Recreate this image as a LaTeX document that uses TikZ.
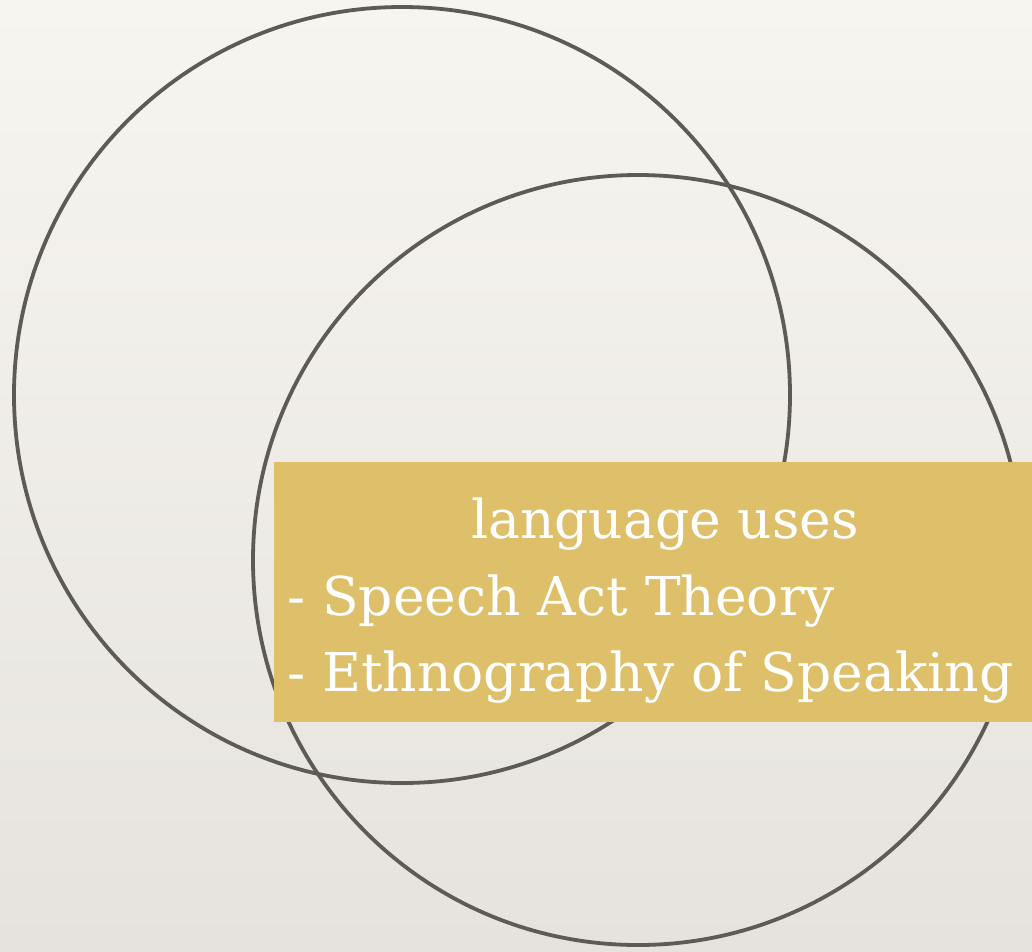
\documentclass[tikz,border=0pt]{standalone}
\usepackage{fontspec}
\setmainfont{DejaVu Serif}
\definecolor{bgtop}{HTML}{F7F5F0}
\definecolor{bgbot}{HTML}{E6E3DF}
\definecolor{ring}{HTML}{5E5B57}
\definecolor{gold}{HTML}{DEC06B}
\tikzset{
  ringnode/.style={circle, draw=ring, line width=3.8pt, inner sep=0pt, fill=none},
  goldbox/.style={fill=gold, draw=none, inner sep=0pt},
  txt/.style={text=white, font=\fontsize{53.5}{58}\selectfont, inner sep=0pt}
}
\begin{document}
\begin{tikzpicture}[x=1pt,y=-1pt]
\shade[top color=bgtop, bottom color=bgbot] (0,0) rectangle (1032,951);
\useasboundingbox (0,0) rectangle (1032,951);
\node[ringnode, minimum size=776pt] (c1) at (402,395) {};
\node[ringnode, minimum size=770pt] (c2) at (638,560) {};
\fill[goldbox] (274,462) rectangle (1032,722);
\node[txt, anchor=base] (t1) at (665,538) {language uses};
\node[txt, anchor=base west] (t2) at (287,615) {- Speech Act Theory};
\node[txt, anchor=base west] (t3) at (287,691) {- Ethnography of Speaking};
\end{tikzpicture}
\end{document}
